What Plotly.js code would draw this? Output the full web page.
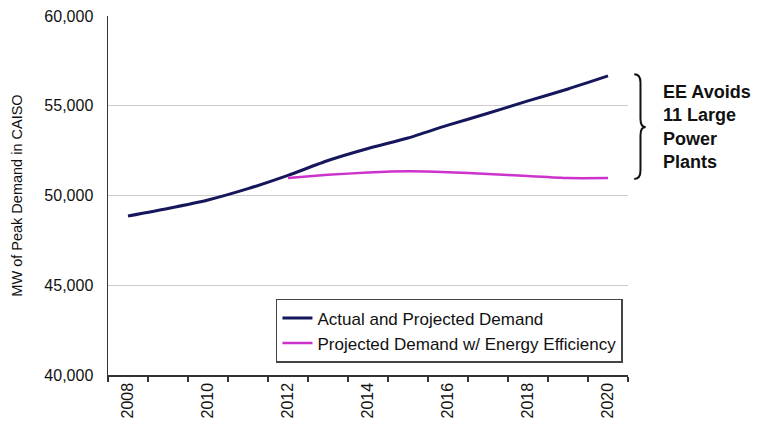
<!DOCTYPE html>
<html>
<head>
<meta charset="utf-8">
<script src="https://cdn.plot.ly/plotly-3.0.1.min.js"></script>
<style>html,body{margin:0;padding:0;background:#fff;}#chart{width:768px;height:432px;}</style>
</head>
<body>
<div id="chart"></div>
<script>
const years = [2008, 2009, 2010, 2011, 2012, 2013, 2014, 2015, 2016, 2017, 2018, 2019, 2020];
const demand = [48860, 49280, 49750, 50380, 51120, 51950, 52620, 53200, 53920, 54580, 55270, 55930, 56660];
const efficiency = [null, null, null, null, 50980, 51150, 51280, 51350, 51300, 51200, 51080, 50970, 50970];
const yTicks = [40000, 45000, 50000, 55000, 60000];
const xLabels = [2008, 2010, 2012, 2014, 2016, 2018, 2020];
const seriesNames = ['Actual and Projected Demand', 'Projected Demand w/ Energy Efficiency'];
const noteText = 'EE Avoids<br>11 Large<br>Power<br>Plants';

const font = 'Liberation Sans, Arial, sans-serif';
const lastTop = demand[demand.length - 1];
const lastBot = efficiency[efficiency.length - 1];
const mid = (lastTop + lastBot) / 2;

// brace path in paper-x / data-y coordinates
const bx0 = 1.012, bx1 = 1.024, bx2 = 1.034;
const yt = lastTop + 100, yb = lastBot - 50;
const q = (yt - yb) * 0.08;
const bracePath = `M ${bx0} ${yt} Q ${bx1} ${yt} ${bx1} ${yt - q} L ${bx1} ${mid + q} Q ${bx1} ${mid} ${bx2} ${mid} Q ${bx1} ${mid} ${bx1} ${mid - q} L ${bx1} ${yb + q} Q ${bx1} ${yb} ${bx0} ${yb}`;

const traces = [
  {x: years, y: demand, name: seriesNames[0], type: 'scatter', mode: 'lines',
   line: {color: '#16165c', width: 3, shape: 'spline', smoothing: 0.6}},
  {x: years, y: efficiency, name: seriesNames[1], type: 'scatter', mode: 'lines',
   line: {color: '#cc33cc', width: 2.5, shape: 'spline', smoothing: 0.6}}
];

const layout = {
  width: 768, height: 432,
  margin: {l: 108, r: 140, t: 16, b: 57},
  paper_bgcolor: '#fff', plot_bgcolor: '#fff',
  font: {family: font, color: '#111', size: 16},
  showlegend: true,
  legend: {
    x: 0.323, y: 0.212, xanchor: 'left', yanchor: 'top',
    bgcolor: '#fff', bordercolor: '#444', borderwidth: 1.5,
    font: {family: font, size: 17, color: '#111'},
    itemwidth: 30, tracegroupgap: 0
  },
  xaxis: {
    range: [2007.5, 2020.5],
    tickmode: 'array', tickvals: xLabels, ticktext: xLabels.map(String),
    tickangle: -90, ticks: '', showgrid: false, zeroline: false,
    showline: true, linecolor: '#333', linewidth: 1.5,
    tickfont: {family: font, size: 16, color: '#111'},
    minor: {ticks: 'outside', tick0: 2007.5, dtick: 1, ticklen: 5, tickcolor: '#333', tickwidth: 1.5, showgrid: false}
  },
  yaxis: {
    range: [40000, 60000],
    tickmode: 'array', tickvals: yTicks, ticktext: yTicks.map(v => v.toLocaleString('en-US')),
    ticks: 'outside', ticklen: 10, tickcolor: 'rgba(0,0,0,0)',
    showgrid: true, gridcolor: '#cccccc', gridwidth: 1, zeroline: false,
    showline: true, linecolor: '#333', linewidth: 1.5,
    tickfont: {family: font, size: 16, color: '#111'},
    title: {text: 'MW of Peak Demand in CAISO', font: {family: font, size: 14.5, color: '#111'}, standoff: 18}
  },
  shapes: [
    {type: 'path', xref: 'paper', yref: 'y', path: bracePath, line: {color: '#111', width: 2}}
  ],
  annotations: [
    {xref: 'paper', yref: 'y', x: 1.064, y: mid, xanchor: 'left', yanchor: 'middle', align: 'left',
     text: '<b>' + noteText + '</b>', showarrow: false,
     font: {family: font, size: 18, color: '#111'}}
  ]
};

Plotly.newPlot('chart', traces, layout, {displayModeBar: false, staticPlot: true});
</script>
</body>
</html>
